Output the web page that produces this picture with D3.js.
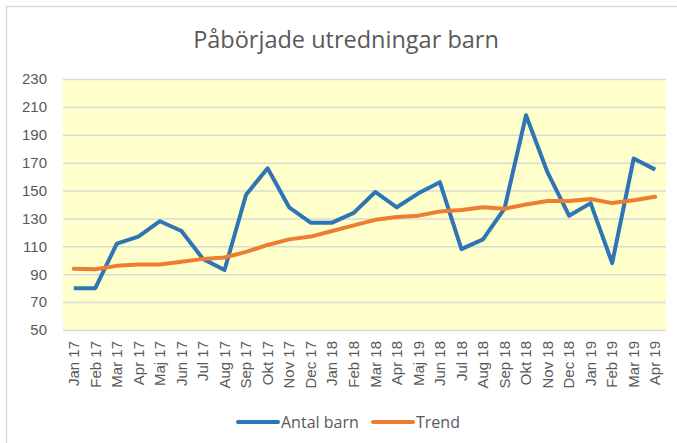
<!DOCTYPE html>
<html>
<head>
<meta charset="utf-8">
<script src="https://cdn.jsdelivr.net/npm/d3@7"></script>
<style>
  body { margin: 0; background: #fff; }
  svg { display: block; font-family: 'Open Sans', sans-serif; }
  .tick text { fill: #595959; }
</style>
</head>
<body>
<svg width="677" height="443"></svg>
<script>
'use strict';

const months = ['Jan 17', 'Feb 17', 'Mar 17', 'Apr 17', 'Maj 17', 'Jun 17', 'Jul 17',
  'Aug 17', 'Sep 17', 'Okt 17', 'Nov 17', 'Dec 17', 'Jan 18', 'Feb 18', 'Mar 18',
  'Apr 18', 'Maj 19', 'Jun 18', 'Jul 18', 'Aug 18', 'Sep 18', 'Okt 18', 'Nov 18',
  'Dec 18', 'Jan 19', 'Feb 19', 'Mar 19', 'Apr 19'];

const antalBarn = [80, 80, 112, 117, 128, 121, 101, 93, 147, 166, 138, 127, 127, 134,
  149, 138, 148, 156, 108, 115, 137, 204, 163, 132, 141, 98, 173, 165];

const trend = [94, 93.5, 96, 97, 97, 99, 101, 102, 106, 111, 115, 117, 121, 125,
  129, 131, 132, 135, 136, 138, 137, 140, 142.5, 142.5, 144, 141, 143, 145.5];

const yTicks = [50, 70, 90, 110, 130, 150, 170, 190, 210, 230];

(function (d3) {
  const svg = d3.select('svg');
  const width = +svg.attr('width');
  const height = +svg.attr('height');

  const margin = { top: 79, right: 11, bottom: 113, left: 63 };
  const innerWidth = width - margin.left - margin.right;
  const innerHeight = height - margin.top - margin.bottom;

  // chart frame
  svg.append('rect')
    .attr('x', 6.5).attr('y', 6.5)
    .attr('width', width + 10).attr('height', height + 10)
    .attr('fill', '#fff')
    .attr('stroke', '#d9d9d9')
    .attr('stroke-width', 1.5);

  svg.append('text')
    .attr('x', 346)
    .attr('y', 48)
    .attr('text-anchor', 'middle')
    .attr('fill', '#595959')
    .style('font-size', '23.5px')
    .text('Påbörjade utredningar barn');

  const xScale = d3.scaleBand()
    .domain(months)
    .range([0, innerWidth]);

  const yScale = d3.scaleLinear()
    .domain([50, 230])
    .range([innerHeight, 0]);

  const g = svg.append('g')
    .attr('transform', `translate(${margin.left},${margin.top})`);

  g.append('rect')
    .attr('width', innerWidth)
    .attr('height', innerHeight)
    .attr('fill', '#ffffcc');

  const yAxis = d3.axisLeft(yScale)
    .tickValues(yTicks)
    .tickSize(-innerWidth)
    .tickPadding(16);

  const yAxisG = g.append('g').call(yAxis);
  yAxisG.select('.domain').remove();
  yAxisG.selectAll('.tick line')
    .attr('stroke', '#d9d9d9')
    .attr('stroke-width', 1.5);
  yAxisG.selectAll('.tick text')
    .style('font-size', '15px');

  const xAxis = d3.axisBottom(xScale)
    .tickSize(0)
    .tickPadding(0);

  const xAxisG = g.append('g').call(xAxis)
    .attr('transform', `translate(0,${innerHeight})`);
  xAxisG.select('.domain').remove();
  xAxisG.selectAll('.tick text')
    .attr('transform', 'rotate(-90)')
    .attr('text-anchor', 'end')
    .attr('x', -11)
    .attr('y', 0)
    .attr('dy', '0.35em')
    .style('font-size', '15px');

  const cx = (d, i) => xScale(months[i]) + xScale.bandwidth() / 2;

  const line = d3.line()
    .x(cx)
    .y(d => yScale(d));

  g.append('path')
    .datum(antalBarn)
    .attr('fill', 'none')
    .attr('stroke', '#2e75b6')
    .attr('stroke-width', 4)
    .attr('stroke-linejoin', 'round')
    .attr('d', line);

  g.append('path')
    .datum(trend)
    .attr('fill', 'none')
    .attr('stroke', '#ed7d31')
    .attr('stroke-width', 4)
    .attr('stroke-linejoin', 'round')
    .attr('stroke-linecap', 'round')
    .attr('d', line);

  // legend
  const legend = [
    { label: 'Antal barn', color: '#2e75b6', x: 238 },
    { label: 'Trend', color: '#ed7d31', x: 373 }
  ];
  const lg = svg.append('g').attr('transform', 'translate(0,422)');
  lg.selectAll('line').data(legend)
    .enter().append('line')
      .attr('x1', d => d.x)
      .attr('x2', d => d.x + 40)
      .attr('stroke', d => d.color)
      .attr('stroke-width', 4)
      .attr('stroke-linecap', 'round');
  lg.selectAll('text').data(legend)
    .enter().append('text')
      .attr('x', d => d.x + 43)
      .attr('dy', '0.35em')
      .attr('fill', '#595959')
      .style('font-size', '16px')
      .text(d => d.label);
}(d3));
</script>
</body>
</html>
